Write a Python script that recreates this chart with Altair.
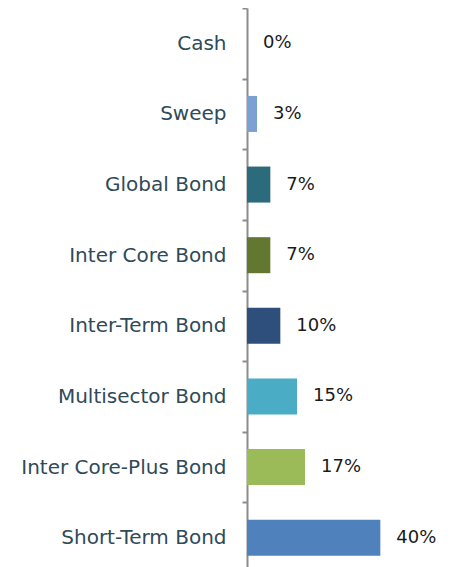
import altair as alt
import pandas as pd

categories = ["Cash", "Sweep", "Global Bond", "Inter Core Bond", "Inter-Term Bond",
              "Multisector Bond", "Inter Core-Plus Bond", "Short-Term Bond"]
values = [0, 3, 7, 7, 10, 15, 17.4, 40]
labels = ["0%", "3%", "7%", "7%", "10%", "15%", "17%", "40%"]
colors = ["#4f81bd", "#7ba0d4", "#2b6b7b", "#62772f", "#2e4e7c", "#4bacc6", "#9bbb59", "#4f81bd"]

df = pd.DataFrame({"cat": categories, "val": values, "label": labels, "color": colors})

y = alt.Y(
    "cat:N", sort=categories,
    scale=alt.Scale(paddingInner=0, paddingOuter=0),
    axis=alt.Axis(title=None, tickBand="extent", tickSize=5, domainColor="#8c8c8c",
                  domainWidth=2, tickColor="#8c8c8c", tickWidth=2,
                  labelFont="DejaVu Sans", labelFontSize=20, labelColor="#2f4a58",
                  labelPadding=16, minExtent=239, maxExtent=239, labelLimit=300),
)
x = alt.X("val:Q", scale=alt.Scale(domain=[0, 58.8], nice=False), axis=None)

bars = alt.Chart(df).mark_bar(height=alt.RelativeBandSize(0.51)).encode(
    x=x, y=y, color=alt.Color("color:N", scale=None)
)
text = alt.Chart(df).mark_text(
    align="left", baseline="middle", dx=16, font="DejaVu Sans", fontSize=18, color="#1a1a1a"
).encode(x=x, y=alt.Y("cat:N", sort=categories), text="label:N")

chart = (bars + text).properties(
    width=196, height=565,
    padding={"top": -10, "left": 0, "right": 0, "bottom": 0},
).configure_view(stroke=None)
chart.save("out.html", embed_options={"renderer": "svg", "actions": False})
